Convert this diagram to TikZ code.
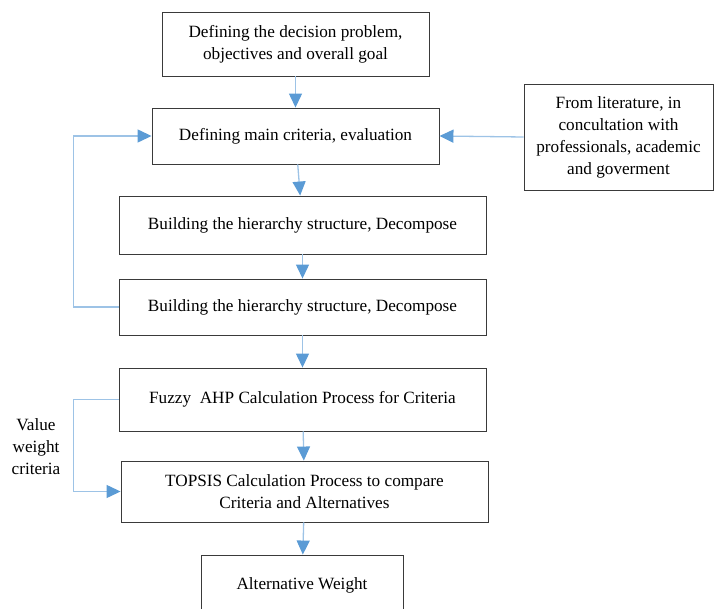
\documentclass[tikz,border=0pt]{standalone}
\usepackage{fontspec}
\setmainfont{Liberation Serif}
\usetikzlibrary{arrows.meta}
\definecolor{cline}{HTML}{9DC3E6}
\definecolor{carrow}{HTML}{5B9BD5}
\definecolor{cbox}{HTML}{3A3A3A}

\begin{document}
\begin{tikzpicture}[x=1pt,y=-1pt,
  box/.style={draw=cbox,line width=0.9pt,fill=white,align=center,inner sep=0pt,
    font=\fontsize{17.2}{22}\selectfont},
  flow/.style={-{Triangle[length=14pt,width=13pt,color=carrow]},draw=cline,line width=1.3pt}]
  \useasboundingbox (0,0) rectangle (714,609);
  \node[box,minimum width=267pt,minimum height=64pt] (goal) at (295.5,44) {%
    Defining the decision problem,\\objectives and overall goal};
  \node[box,minimum width=287pt,minimum height=56pt] (crit) at (295.5,136) {%
    Defining main criteria, evaluation};
  \node[box,minimum width=189pt,minimum height=106pt] (lit) at (618.5,137) {%
    From literature, in\\concultation with\\professionals, academic\\and goverment};
  \node[box,minimum width=367pt,minimum height=58pt] (hier1) at (302.5,225) {%
    Building the hierarchy structure, Decompose};
  \node[box,minimum width=367pt,minimum height=56pt] (hier2) at (302.5,307) {%
    Building the hierarchy structure, Decompose};
  \node[box,minimum width=367pt,minimum height=63pt] (fahp) at (302.5,399.5) {%
    Fuzzy\ \ AHP Calculation Process for Criteria};
  \node[box,minimum width=367pt,minimum height=61pt] (topsis) at (304.5,491.5) {%
    TOPSIS Calculation Process to compare\\Criteria and Alternatives};
  \node[box,minimum width=202pt,minimum height=60pt] (alt) at (302,585) {%
    Alternative Weight};
  \node[align=center,inner sep=0pt,font=\fontsize{17.2}{22}\selectfont] (vw) at (36,447) {%
    Value\\weight\\criteria};
  \draw[flow] (goal.south) -- (crit.north);
  \draw[flow] (crit) -- (hier1);
  \draw[flow] (hier1) -- (hier2);
  \draw[flow] (hier2) -- (fahp);
  \draw[flow] (fahp) -- (topsis);
  \draw[flow] (topsis) -- (alt);
  \draw[flow] (lit.west) -- (crit.east);
  \draw[flow] (hier2.west) -- ++(-45,0) |- (crit.west);
  \draw[flow] (fahp.west) -- ++(-45,0) |- (topsis.west);
\end{tikzpicture}
\end{document}
